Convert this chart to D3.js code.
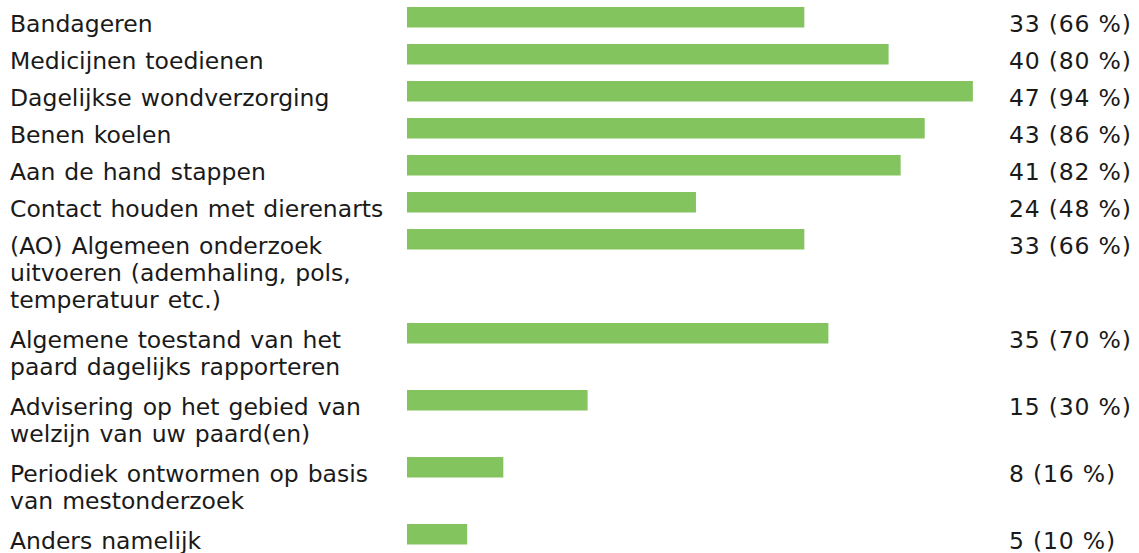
<!DOCTYPE html>
<html>
<head>
<meta charset="utf-8">
<script src="https://cdn.jsdelivr.net/npm/d3@7"></script>
<style>
  html, body { margin: 0; padding: 0; background: #ffffff; }
  svg { display: block; }
  text { font-family: "DejaVu Sans", Verdana, sans-serif; font-size: 23.5px; fill: #1a1a1a; }
  text.label { word-spacing: 1.5px; }
  text.value { letter-spacing: 0.8px; }
</style>
</head>
<body>
<svg id="chart" width="1139" height="553"></svg>
<script>
// Answer options (each entry holds the wrapped lines of the label)
const categories = [
  ["Bandageren"],
  ["Medicijnen toedienen"],
  ["Dagelijkse wondverzorging"],
  ["Benen koelen"],
  ["Aan de hand stappen"],
  ["Contact houden met dierenarts"],
  ["(AO) Algemeen onderzoek", "uitvoeren (ademhaling, pols,", "temperatuur etc.)"],
  ["Algemene toestand van het", "paard dagelijks rapporteren"],
  ["Advisering op het gebied van", "welzijn van uw paard(en)"],
  ["Periodiek ontwormen op basis", "van mestonderzoek"],
  ["Anders namelijk"]
];

// Number of respondents per option
const counts = [33, 40, 47, 43, 41, 24, 33, 35, 15, 8, 5];

// Share of respondents per option (%)
const percents = [66, 80, 94, 86, 82, 48, 66, 70, 30, 16, 10];

const barColor = "#84c45f";
const lineHeight = 27;
const rowPad = 13;
const singleRow = 37;
const barHeight = 20.5;

const svg = d3.select("#chart");

const x = d3.scaleLinear().domain([0, 50]).range([407, 1009]);

// Row tops depend on how many lines each label wraps to
const rowTops = [];
let yCursor = 7;
categories.forEach(lines => {
  rowTops.push(yCursor);
  yCursor += lines.length === 1 ? singleRow : lines.length * lineHeight + rowPad;
});

const rows = svg.selectAll("g.row")
  .data(categories.map((lines, i) => ({ lines, count: counts[i], pct: percents[i], top: rowTops[i] })))
  .join("g")
  .attr("class", "row")
  .attr("transform", d => `translate(0,${d.top})`);

rows.append("rect")
  .attr("x", x(0))
  .attr("y", 0)
  .attr("width", d => x(d.count) - x(0))
  .attr("height", barHeight)
  .attr("fill", barColor);

rows.append("text")
  .attr("class", "label")
  .attr("x", 10)
  .attr("y", 24.5)
  .selectAll("tspan")
  .data(d => d.lines)
  .join("tspan")
  .attr("x", 10)
  .attr("dy", (d, i) => i === 0 ? 0 : lineHeight)
  .text(d => d);

rows.append("text")
  .attr("class", "value")
  .attr("x", x.range()[1])
  .attr("y", 24.5)
  .text(d => `${d.count} (${d.pct} %)`);
</script>
</body>
</html>
